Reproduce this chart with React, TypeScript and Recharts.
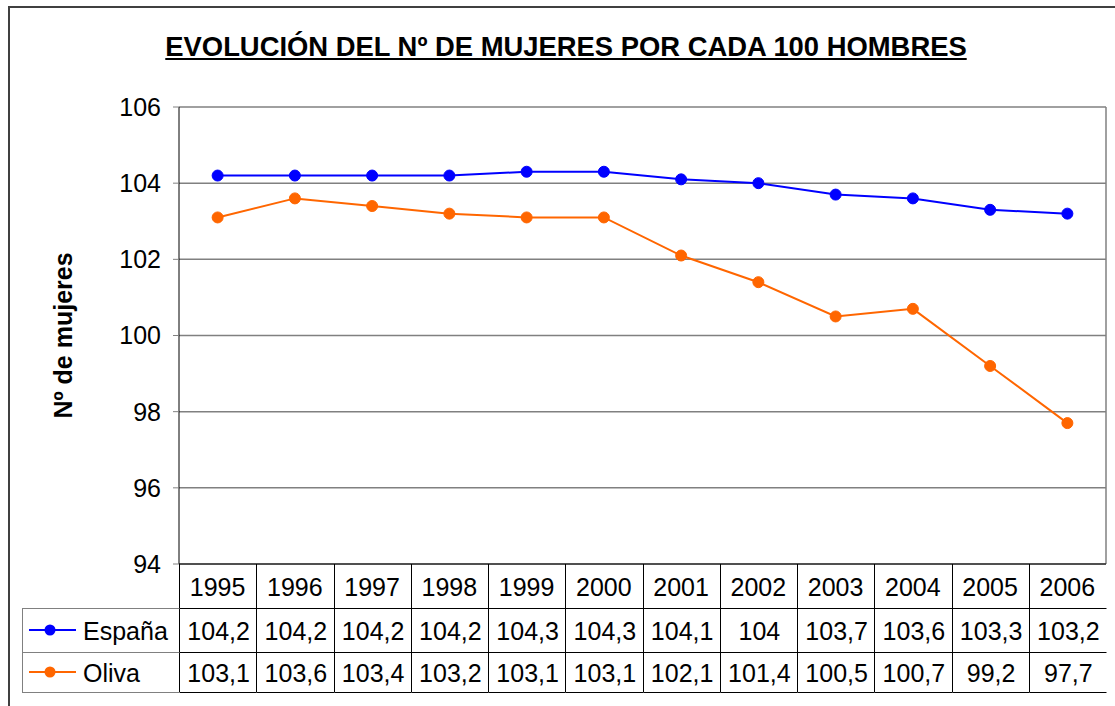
import React from 'react'
import { CartesianGrid, Line, LineChart, XAxis, YAxis } from 'recharts'

const years = ['1995', '1996', '1997', '1998', '1999', '2000', '2001', '2002', '2003', '2004', '2005', '2006']
const espana = [104.2, 104.2, 104.2, 104.2, 104.3, 104.3, 104.1, 104, 103.7, 103.6, 103.3, 103.2]
const oliva = [103.1, 103.6, 103.4, 103.2, 103.1, 103.1, 102.1, 101.4, 100.5, 100.7, 99.2, 97.7]
const yTicks = [94, 96, 98, 100, 102, 104, 106]

const series = [
  { key: 'espana', name: 'España', color: '#0000FF', values: espana },
  { key: 'oliva', name: 'Oliva', color: '#FF6600', values: oliva },
]

const data = years.map((year, i) => ({ year, espana: espana[i], oliva: oliva[i] }))

const W = 1115
const H = 706
const PLOT_LEFT = 179
const PLOT_RIGHT = 1106
const BW = (PLOT_RIGHT - PLOT_LEFT) / years.length
const FONT = '"Liberation Sans", Arial, sans-serif'
const ROW_H = [44, 44, 40]
const LEGEND_LEFT = 22

const fmt = (v: number) => String(v).replace('.', ',')

// draws one column of the data table under each category
const TableTick = (props: any) => {
  const { x, y, payload } = props
  const idx = payload.index
  const left = Math.round(x - BW / 2) + 0.5
  const right = Math.round(x + BW / 2) + 0.5
  const top = y
  const r1 = top + ROW_H[0]
  const r2 = r1 + ROW_H[1]
  const r3 = r2 + ROW_H[2]
  const rowTops = [top, r1, r2]
  return (
    <g>
      <line x1={left} x2={left} y1={top} y2={r3} stroke="#000" />
      <line x1={left} x2={right} y1={r1 + 0.5} y2={r1 + 0.5} stroke="#000" />
      <line x1={left} x2={right} y1={r2 + 0.5} y2={r2 + 0.5} stroke="#000" />
      <line x1={left} x2={right} y1={r3 + 0.5} y2={r3 + 0.5} stroke="#000" />
      <text x={x} y={top + ROW_H[0] / 2 + 1} textAnchor="middle" dominantBaseline="central"
        fontFamily={FONT} fontSize={25} fill="#000">{payload.value}</text>
      {series.map((s, si) => (
        <text key={s.key} x={x + 1} y={rowTops[si + 1] + ROW_H[si + 1] / 2 + 1} textAnchor="middle"
          dominantBaseline="central" fontFamily={FONT} fontSize={25} fill="#000">
          {fmt(s.values[idx])}
        </text>
      ))}
      {idx === 0 && (
        <g>
          <line x1={LEGEND_LEFT + 0.5} x2={LEGEND_LEFT + 0.5} y1={r1} y2={r3 + 1} stroke="#808080" />
          <line x1={LEGEND_LEFT} x2={left} y1={r1 + 0.5} y2={r1 + 0.5} stroke="#808080" />
          <line x1={LEGEND_LEFT} x2={left} y1={r2 + 0.5} y2={r2 + 0.5} stroke="#808080" />
          <line x1={LEGEND_LEFT} x2={left} y1={r3 + 0.5} y2={r3 + 0.5} stroke="#808080" />
          {series.map((s, si) => {
            const cy = rowTops[si + 1] + ROW_H[si + 1] / 2
            return (
              <g key={s.key}>
                <line x1={29} x2={76} y1={cy} y2={cy} stroke={s.color} strokeWidth={2} />
                <circle cx={50} cy={cy} r={5.5} fill={s.color} />
                <text x={83} y={cy + 1} dominantBaseline="central" fontFamily={FONT} fontSize={25} fill="#000">
                  {s.name}
                </text>
              </g>
            )
          })}
        </g>
      )}
    </g>
  )
}

export default function App() {
  return (
    <div style={{ position: 'absolute', left: 0, top: 0, width: W, height: H, overflow: 'hidden', background: '#fff' }}>
      <div style={{ position: 'absolute', left: 8, top: 6, width: W, height: H, border: '2px solid #404040' }} />
      <div style={{
        position: 'absolute', left: 0, width: 1132, top: 32, textAlign: 'center',
        fontFamily: FONT, fontWeight: 'bold', fontSize: 27.4, lineHeight: '30px', textDecoration: 'underline',
      }}>
        EVOLUCIÓN DEL Nº DE MUJERES POR CADA 100 HOMBRES
      </div>
      <div style={{ position: 'absolute', left: 0, top: 0 }}>
        <LineChart width={W} height={H} data={data} margin={{ top: 107, right: 9, left: 119, bottom: 0 }}>
          <CartesianGrid stroke="#808080" strokeWidth={1.5} verticalPoints={[PLOT_RIGHT]} />
          <XAxis
            dataKey="year"
            height={142}
            tickSize={0}
            tickMargin={0}
            padding={{ left: BW / 2, right: BW / 2 }}
            axisLine={{ stroke: '#000' }}
            tickLine={false}
            interval={0}
            tick={TableTick}
          />
          <YAxis
            width={60}
            domain={[94, 106]}
            ticks={yTicks}
            interval={0}
            tickSize={6}
            tickMargin={12}
            axisLine={{ stroke: '#000' }}
            tickLine={{ stroke: '#808080' }}
            tick={{ fill: '#000', fontSize: 25, fontFamily: FONT }}
            label={{
              value: 'Nº de mujeres', angle: -90, position: 'insideLeft', offset: -56,
              style: { textAnchor: 'middle', fontFamily: FONT, fontWeight: 'bold', fontSize: 25, fill: '#000' },
            }}
          />
          {series.map((s) => (
            <Line
              key={s.key}
              dataKey={s.key}
              name={s.name}
              stroke={s.color}
              strokeWidth={2}
              dot={{ r: 5.5, fill: s.color, stroke: s.color, strokeWidth: 1 }}
              activeDot={false}
              isAnimationActive={false}
            />
          ))}
        </LineChart>
      </div>
    </div>
  )
}
